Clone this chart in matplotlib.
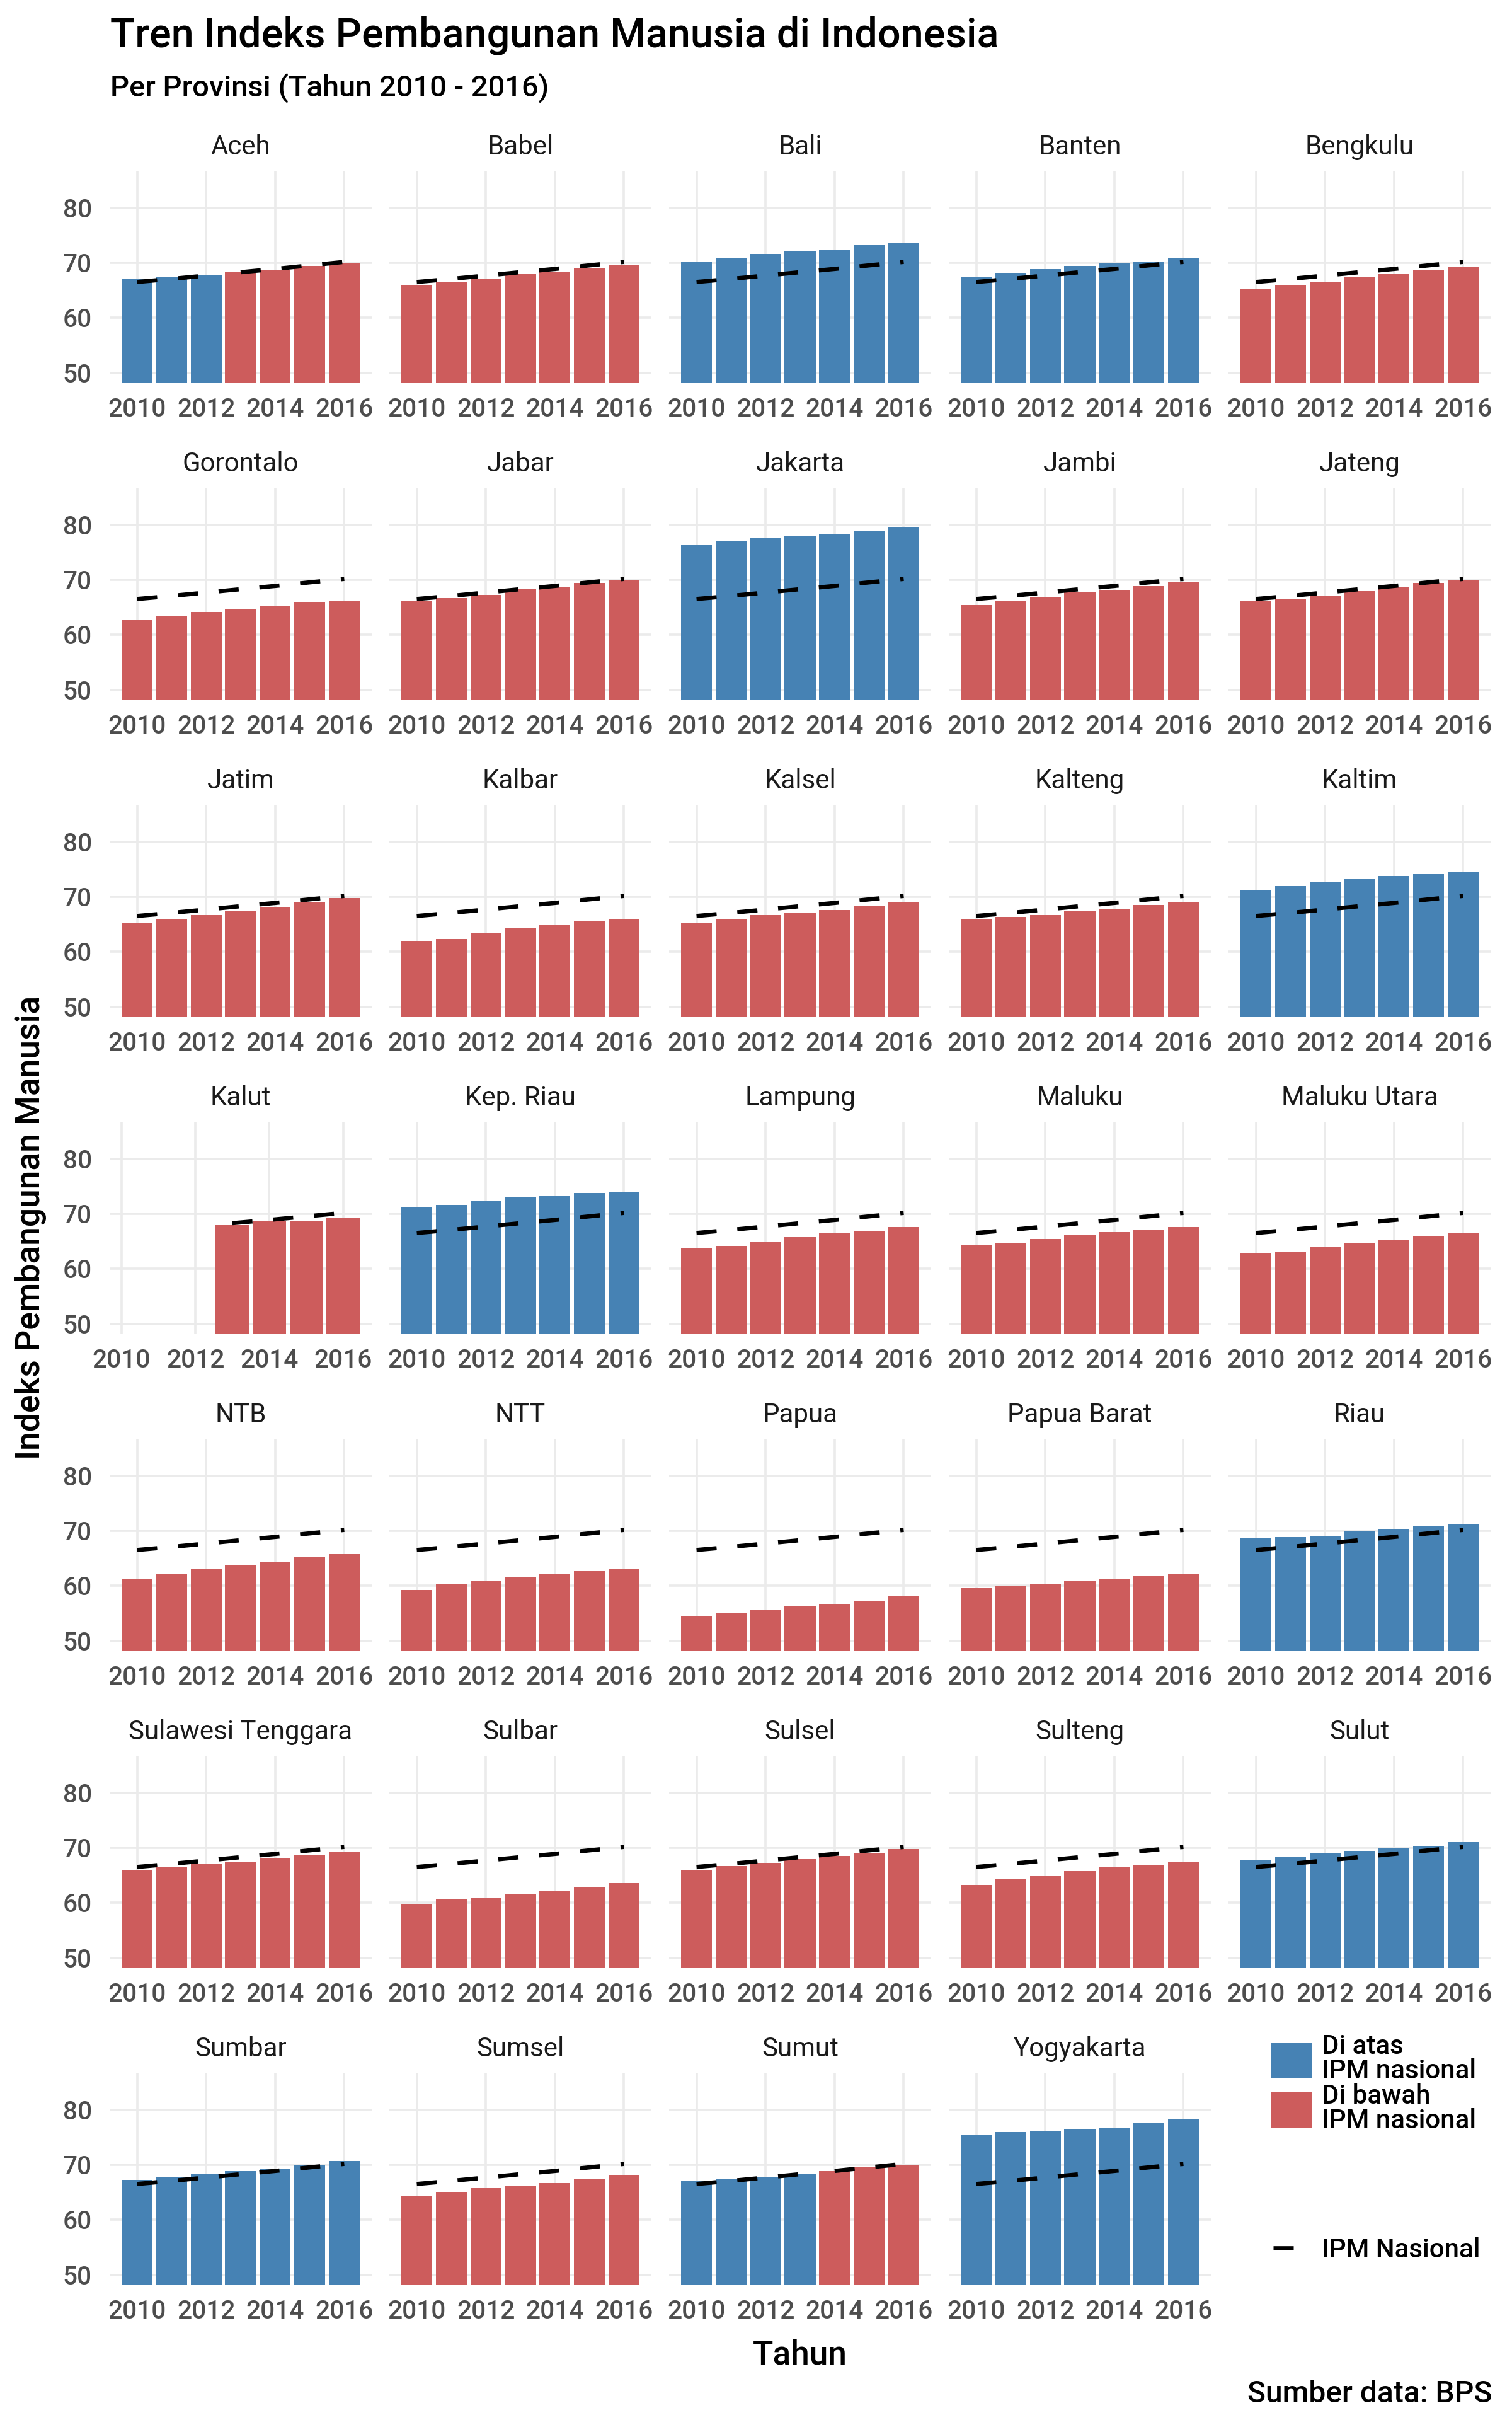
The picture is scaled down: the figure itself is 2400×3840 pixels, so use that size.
import matplotlib
matplotlib.use("Agg")
import matplotlib.pyplot as plt
import numpy as np
from matplotlib.patches import Patch
from matplotlib.lines import Line2D

plt.rcParams['font.family'] = ['Roboto', 'DejaVu Sans']
plt.rcParams['font.weight'] = 'medium'

# ----------------------------------------------------------------------------
# Data (IPM metode baru, BPS)
tahun = [2010, 2011, 2012, 2013, 2014, 2015, 2016]
ipm_nasional = [66.53, 67.09, 67.70, 68.31, 68.90, 69.55, 70.18]

ipm_aceh = [67.09, 67.45, 67.81, 68.30, 68.81, 69.45, 70.00]
ipm_babel = [66.02, 66.59, 67.21, 67.92, 68.27, 69.05, 69.55]
ipm_bali = [70.10, 70.87, 71.62, 72.09, 72.48, 73.27, 73.65]
ipm_banten = [67.54, 68.22, 68.92, 69.47, 69.89, 70.27, 70.96]
ipm_bengkulu = [65.35, 65.96, 66.61, 67.50, 68.06, 68.59, 69.33]
ipm_gorontalo = [62.65, 63.48, 64.16, 64.70, 65.17, 65.86, 66.29]
ipm_jabar = [66.15, 66.67, 67.32, 68.25, 68.80, 69.50, 70.05]
ipm_jakarta = [76.31, 76.98, 77.53, 78.08, 78.39, 78.99, 79.60]
ipm_jambi = [65.39, 66.14, 66.94, 67.76, 68.24, 68.89, 69.62]
ipm_jateng = [66.08, 66.64, 67.21, 68.02, 68.78, 69.49, 69.98]
ipm_jatim = [65.36, 66.06, 66.74, 67.55, 68.14, 68.95, 69.74]
ipm_kalbar = [61.97, 62.35, 63.41, 64.30, 64.89, 65.59, 65.88]
ipm_kalsel = [65.20, 65.89, 66.68, 67.17, 67.63, 68.38, 69.05]
ipm_kalteng = [65.96, 66.38, 66.66, 67.41, 67.77, 68.53, 69.13]
ipm_kaltim = [71.31, 72.02, 72.62, 73.21, 73.82, 74.17, 74.59]
ipm_kalut = [None, None, None, 67.99, 68.64, 68.76, 69.20]
ipm_kepriau = [71.13, 71.61, 72.36, 73.02, 73.40, 73.75, 73.99]
ipm_lampung = [63.71, 64.20, 64.87, 65.73, 66.42, 66.95, 67.65]
ipm_maluku = [64.27, 64.75, 65.43, 66.09, 66.74, 67.05, 67.60]
ipm_malut = [62.79, 63.19, 63.93, 64.78, 65.18, 65.91, 66.63]
ipm_ntb = [61.16, 62.14, 62.98, 63.76, 64.31, 65.19, 65.81]
ipm_ntt = [59.21, 60.24, 60.81, 61.68, 62.26, 62.67, 63.13]
ipm_papua = [54.45, 55.01, 55.55, 56.25, 56.75, 57.25, 58.05]
ipm_papuabarat = [59.60, 59.90, 60.30, 60.91, 61.28, 61.73, 62.21]
ipm_riau = [68.65, 68.90, 69.15, 69.91, 70.33, 70.84, 71.20]
ipm_sultra = [65.99, 66.52, 67.07, 67.55, 68.07, 68.75, 69.31]
ipm_sulbar = [59.74, 60.63, 61.01, 61.53, 62.24, 62.96, 63.60]
ipm_sulsel = [66.00, 66.65, 67.26, 67.92, 68.49, 69.15, 69.76]
ipm_sulteng = [63.29, 64.27, 65.00, 65.79, 66.43, 66.76, 67.47]
ipm_sulut = [67.83, 68.31, 69.04, 69.49, 69.96, 70.39, 71.05]
ipm_sumbar = [67.25, 67.81, 68.36, 68.91, 69.36, 69.98, 70.73]
ipm_sumsel = [64.44, 65.12, 65.79, 66.16, 66.75, 67.46, 68.24]
ipm_sumut = [67.09, 67.34, 67.74, 68.36, 68.87, 69.51, 70.00]
ipm_yogyakarta = [75.37, 75.93, 76.15, 76.44, 76.81, 77.59, 78.38]

panels = [
    ('Aceh', ipm_aceh), ('Babel', ipm_babel), ('Bali', ipm_bali),
    ('Banten', ipm_banten), ('Bengkulu', ipm_bengkulu),
    ('Gorontalo', ipm_gorontalo), ('Jabar', ipm_jabar), ('Jakarta', ipm_jakarta),
    ('Jambi', ipm_jambi), ('Jateng', ipm_jateng), ('Jatim', ipm_jatim),
    ('Kalbar', ipm_kalbar), ('Kalsel', ipm_kalsel), ('Kalteng', ipm_kalteng),
    ('Kaltim', ipm_kaltim), ('Kalut', ipm_kalut), ('Kep. Riau', ipm_kepriau),
    ('Lampung', ipm_lampung), ('Maluku', ipm_maluku), ('Maluku Utara', ipm_malut),
    ('NTB', ipm_ntb), ('NTT', ipm_ntt), ('Papua', ipm_papua),
    ('Papua Barat', ipm_papuabarat), ('Riau', ipm_riau),
    ('Sulawesi Tenggara', ipm_sultra), ('Sulbar', ipm_sulbar), ('Sulsel', ipm_sulsel),
    ('Sulteng', ipm_sulteng), ('Sulut', ipm_sulut), ('Sumbar', ipm_sumbar),
    ('Sumsel', ipm_sumsel), ('Sumut', ipm_sumut), ('Yogyakarta', ipm_yogyakarta),
]

# ----------------------------------------------------------------------------
# Style
COL_ATAS = '#4682B4'
COL_BAWAH = '#CD5C5C'
COL_GRID = '#EBEBEB'
COL_TICK = '#4D4D4D'
BAR_W = 0.9
LW_NAS = 2.0
DASH_NAS = (0, (9.6 / LW_NAS, 9.9 / LW_NAS))

W, H, DPI = 2400, 3840, 240
fig = plt.figure(figsize=(W / DPI, H / DPI), dpi=DPI)


def add_axes_px(left, top, width, height):
    return fig.add_axes([left / W, 1 - (top + height) / H, width / W, height / H])


x_all = np.array(tahun, dtype=float)
y_nas = np.array(ipm_nasional, dtype=float)

for i, (nama, nilai) in enumerate(panels):
    row, col = divmod(i, 5)
    ax = add_axes_px(174 + 444 * col, 271 + 503 * row, 416, 336)

    y = np.array([np.nan if v is None else v for v in nilai], dtype=float)
    valid = ~np.isnan(y)
    atas = valid & (y > y_nas)
    warna = np.where(atas, COL_ATAS, COL_BAWAH)

    ax.bar(x_all[valid], y[valid], width=BAR_W, color=warna[valid], zorder=2)

    # national line, grouped by fill colour (as ggplot does)
    for grp in (atas, valid & ~atas):
        if grp.sum() >= 2:
            ax.plot(x_all[grp], y_nas[grp], color='black', lw=LW_NAS,
                    linestyle=DASH_NAS, dash_capstyle='butt', zorder=3)

    # free x scale: trained on all rows, bars on valid rows
    x_lo = min(x_all.min(), x_all[valid].min() - BAR_W / 2)
    x_hi = max(x_all.max(), x_all[valid].max() + BAR_W / 2)
    pad = 0.05 * (x_hi - x_lo)
    ax.set_xlim(x_lo - pad, x_hi + pad)
    ax.set_ylim(50 - 0.05 * 35, 85 + 0.05 * 35)

    ax.set_xticks([2010, 2012, 2014, 2016])
    ax.set_yticks([50, 60, 70, 80])
    ax.grid(True, color=COL_GRID, lw=1.1, zorder=0)
    ax.set_axisbelow(True)
    for s in ax.spines.values():
        s.set_visible(False)
    ax.tick_params(axis='x', length=0, pad=7.2, labelsize=12.2, labelcolor=COL_TICK)
    ax.tick_params(axis='y', length=0, pad=8.4, labelsize=12.2, labelcolor=COL_TICK,
                   labelleft=(col == 0))
    ax.set_title(nama, fontsize=12.6, pad=7.8, color='#1A1A1A')

# ----------------------------------------------------------------------------
# Titles
fig.text(175 / W, 1 - 75 / H, 'Tren Indeks Pembangunan Manusia di Indonesia',
         fontsize=19.4, va='baseline', ha='left', color='black')
fig.text(175 / W, 1 - 153 / H, 'Per Provinsi (Tahun 2010 - 2016)',
         fontsize=14.1, va='baseline', ha='left', color='black')
fig.text(49 / W, 1 - 1948 / H, 'Indeks Pembangunan Manusia', rotation=90,
         fontsize=16, va='center', ha='center', color='black')
fig.text(1270 / W, 1 - 3752 / H, 'Tahun', fontsize=16, va='baseline', ha='center',
         color='black')
fig.text(2369 / W, 1 - 3812 / H, 'Sumber data: BPS', fontsize=14.4, va='baseline',
         ha='right', color='black')

# ----------------------------------------------------------------------------
# Legends
FS_LEG = 12.6
fs_px = FS_LEG * DPI / 72
leg_items = [
    (Patch(facecolor=COL_ATAS, edgecolor='none'), 'Di atas\nIPM nasional', 3227),
    (Patch(facecolor=COL_BAWAH, edgecolor='none'), 'Di bawah\nIPM nasional', 3306),
]
for handle, label, top in leg_items:
    leg = fig.legend([handle], [label], loc='upper left',
                     bbox_to_anchor=(2017 / W, 1 - top / H), frameon=False,
                     borderpad=0, borderaxespad=0, fontsize=FS_LEG,
                     handlelength=66 / fs_px, handleheight=72 / fs_px,
                     handletextpad=15 / fs_px)
    for t in leg.get_texts():
        t.set_linespacing(0.94)

leg = fig.legend([Line2D([], [], color='black', lw=LW_NAS, solid_capstyle='butt')],
                 ['IPM Nasional'], loc='center left',
                 bbox_to_anchor=(2021 / W, 1 - 3570 / H), frameon=False,
                 borderpad=0, borderaxespad=0, fontsize=FS_LEG,
                 handlelength=32 / fs_px, handletextpad=45 / fs_px)

fig.savefig('out.png', dpi=DPI)
